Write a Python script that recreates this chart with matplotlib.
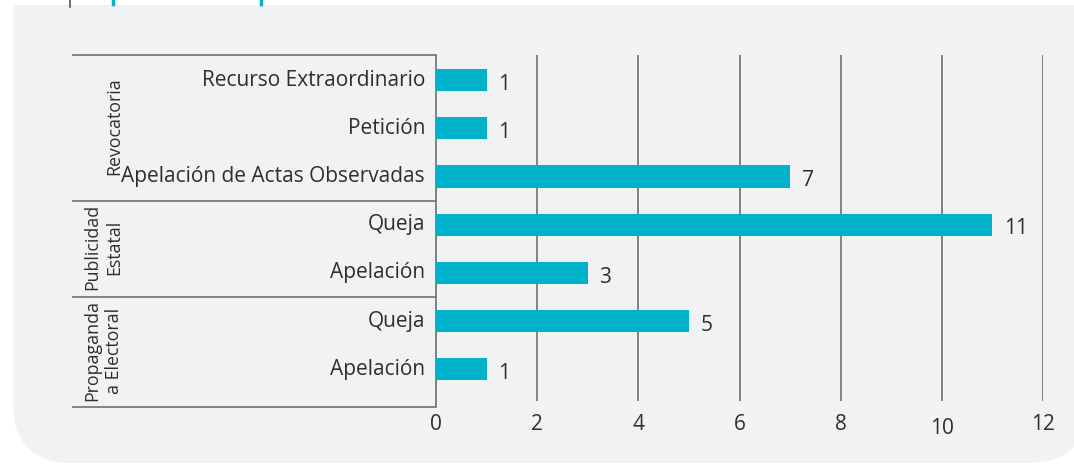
import matplotlib
matplotlib.use("Agg")
import matplotlib.pyplot as plt
from matplotlib.patches import FancyBboxPatch, Rectangle
from matplotlib.lines import Line2D
import matplotlib.transforms as mtransforms

# ── Data ──────────────────────────────────────────────────────────────────────
categories = [
    "Recurso Extraordinario", "Petición", "Apelación de Actas Observadas",
    "Queja", "Apelación",
    "Queja", "Apelación",
]
values = [1, 1, 7, 11, 3, 5, 1]
groups = ["Revocatoria", "Publicidad\nEstatal", "Propaganda\na Electoral"]
group_sizes = [3, 2, 2]
x_ticks = [0, 2, 4, 6, 8, 10, 12]

BAR = "#00b3c9"
PANEL = "#f1f2f4"
LINE = "#7a7a7a"
TEXT = "#2e2e2e"

plt.rcParams["font.family"] = ["Open Sans", "DejaVu Sans"]

W, H = 1074, 465
fig = plt.figure(figsize=(W / 100, H / 100), dpi=100)
fig.patch.set_facecolor("white")

# rounded grey panel behind the chart
panel = FancyBboxPatch((0.13, 0.02), 10.75, 5.2,
                       boxstyle="round,pad=0,rounding_size=0.6",
                       transform=fig.dpi_scale_trans, facecolor=PANEL,
                       edgecolor="none", zorder=0)
fig.add_artist(panel)
fig.add_artist(Rectangle((0, 1 - 5 / H), 1, 5 / H, transform=fig.transFigure,
                         facecolor="white", edgecolor="none", zorder=0.5))
# cut-off header remnants at the very top
fig.add_artist(Line2D([70 / W, 70 / W], [1, 1 - 7 / H], transform=fig.transFigure,
                      color="#555555", lw=1.2))
for xp in (113, 261):
    fig.add_artist(Line2D([xp / W, xp / W], [1, 1 - 4 / H], transform=fig.transFigure,
                          color=BAR, lw=2.5))

# ── Axes ──────────────────────────────────────────────────────────────────────
left_px, right_px, top_px, bot_px = 436, 1043, 55, 407
ax = fig.add_axes([left_px / W, 1 - bot_px / H,
                   (right_px - left_px) / W, (bot_px - top_px) / H])
ax.set_facecolor("none")
for s in ax.spines.values():
    s.set_visible(False)

y = list(range(len(categories)))
y_top, y_bot = -0.52, 6.78
ax.set_xlim(x_ticks[0], x_ticks[-1])
ax.set_ylim(y_bot, y_top)

# gridlines
ax.vlines(x_ticks[1:], y_top, 6.66, color=LINE, lw=1.3, zorder=1)
ax.vlines([x_ticks[0]], y_top, y_bot, color=LINE, lw=1.3, zorder=1, clip_on=False)

ax.barh(y, values, height=0.46, color=BAR, zorder=2)
for yi, v in zip(y, values):
    ax.annotate(str(v), (v, yi), xytext=(8.5, -3), textcoords="offset points",
                ha="left", va="center", fontsize=15, color=TEXT)

ax.set_yticks([])
ax.set_xticks(x_ticks)
ax.set_xticklabels([str(t) for t in x_ticks], fontsize=15, color=TEXT)
ax.tick_params(axis="x", length=0, pad=5)
ax.xaxis.get_major_ticks()[5].set_pad(8)

# ── Left table (categories and groups) ────────────────────────────────────────
trans = mtransforms.blended_transform_factory(ax.transAxes, ax.transData)
tbl_left = (73 - left_px) / (right_px - left_px)
lab_x = (425 - left_px) / (right_px - left_px)
grp_x = (123 - left_px) / (right_px - left_px)

for yi, lab in zip(y, categories):
    ax.text(lab_x, yi, lab, transform=trans, ha="right", va="center",
            fontsize=15, color=TEXT)

bounds = [y_top]
start = 0
for g, n in zip(groups, group_sizes):
    end = start + n
    bounds.append(end - 0.5 if end < len(categories) else y_bot)
    ax.text(grp_x, (bounds[-2] + bounds[-1]) / 2 - 0.03, g, transform=trans,
            rotation=90, ha="right", va="center", multialignment="center",
            fontsize=12.8, color=TEXT, linespacing=1.3)
    start = end

for b in bounds:
    ax.plot([tbl_left, 0], [b, b], transform=trans, color=LINE, lw=1.3,
            clip_on=False, zorder=1)

fig.savefig("out.png", dpi=100)
